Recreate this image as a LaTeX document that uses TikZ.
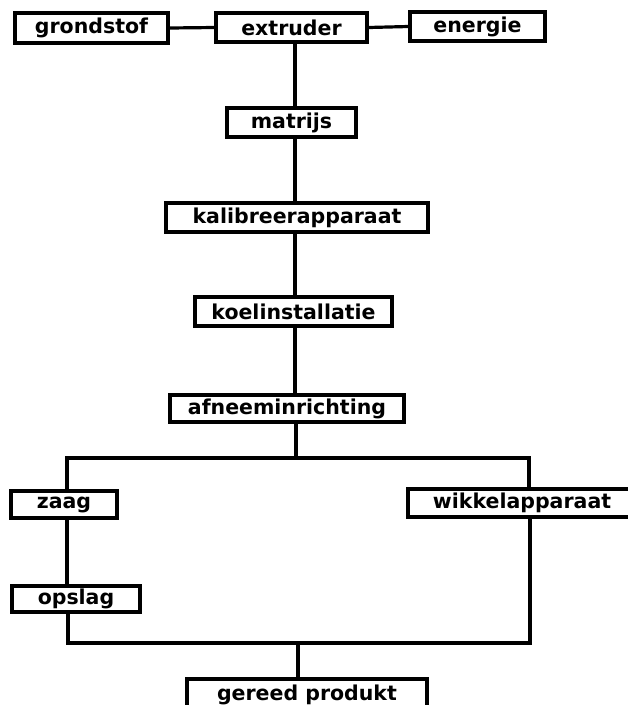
\documentclass[tikz,border=0pt]{standalone}
\usepackage{fontspec}
\setmainfont{DejaVu Sans}
\begin{document}
\begin{tikzpicture}[x=1pt,y=-1pt,
  blok/.style={draw, line width=3.2pt, inner sep=0pt, font=\bfseries\fontsize{20.5}{20.5}\selectfont},
  lijn/.style={line width=3.2pt, line cap=rect}]
\useasboundingbox (0,0) rectangle (628,705);
\clip (0,0) rectangle (628,705);
\node[blok, minimum width=153pt, minimum height=30pt] (grond) at (91.5,28) {grondstof};
\node[blok, minimum width=151pt, minimum height=29pt] (extr) at (291.5,27.5) {extruder};
\node[blok, minimum width=135pt, minimum height=29pt] (ener) at (477.5,26.5) {energie};
\node[blok, minimum width=129pt, minimum height=29pt] (matr) at (291.5,122.5) {matrijs};
\node[blok, minimum width=262pt, minimum height=29pt] (kali) at (297,217.5) {kalibreerapparaat};
\node[blok, minimum width=197pt, minimum height=29pt] (koel) at (293.5,311.5) {koelinstallatie};
\node[blok, minimum width=234pt, minimum height=27pt] (afne) at (287,408.5) {afneeminrichting};
\node[blok, minimum width=106pt, minimum height=27pt] (zaag) at (64,504.5) {zaag};
\node[blok, minimum width=228pt, minimum height=28pt] (wikk) at (522,503) {wikkelapparaat};
\node[blok, minimum width=128pt, minimum height=26pt] (opsl) at (76,599) {opslag};
\node[blok, minimum width=240pt, minimum height=32pt] (gere) at (307,695) {gereed produkt};
\coordinate (sp) at (295,0);
\coordinate (bl) at (67,458);
\coordinate (bm) at (296,458);
\coordinate (br) at (529,458);
\coordinate (ol) at (68,643);
\coordinate (om) at (298,643);
\coordinate (or) at (530,643);
\draw[lijn] (grond.east) -- (extr.west);
\draw[lijn] (extr.east) -- (ener.west);
\draw[lijn] (extr.south -| sp) -- (matr.north -| sp);
\draw[lijn] (matr.south -| sp) -- (kali.north -| sp);
\draw[lijn] (kali.south -| sp) -- (koel.north -| sp);
\draw[lijn] (koel.south -| sp) -- (afne.north -| sp);
\draw[lijn] (afne.south -| bm) -- (bm);
\draw[lijn] (zaag.north -| bl) -- (bl) -- (br) -- (wikk.north -| br);
\draw[lijn] (zaag.south -| bl) -- (opsl.north -| bl);
\draw[lijn] (opsl.south -| ol) -- (ol) -- (or) -- (wikk.south -| or);
\draw[lijn] (om) -- (gere.north -| om);
\end{tikzpicture}
\end{document}
